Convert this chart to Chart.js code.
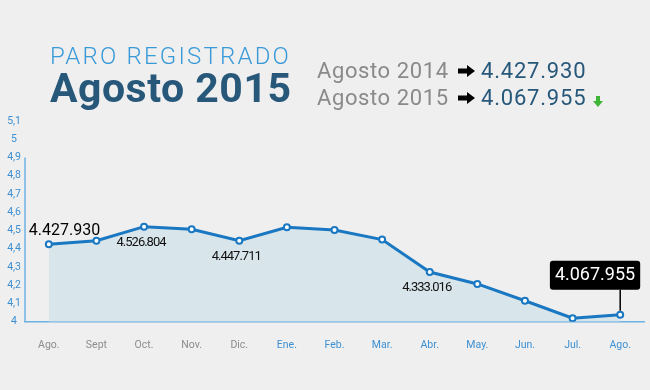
<!DOCTYPE html>
<html lang="es">
<head>
<meta charset="UTF-8">
<title>Paro registrado - Agosto 2015</title>
<script src="https://cdn.jsdelivr.net/npm/chart.js@4"></script>
<style>
  body { margin: 0; background: #efefef; font-family: Roboto, sans-serif; }
  .wrap { position: relative; width: 650px; height: 390px; overflow: hidden; }
  #grafico { position: absolute; left: 0; top: 0; }
  .txt { position: absolute; white-space: nowrap; line-height: 1; }
  .sub { left: 50px; top: 44px; font-size: 24px; font-weight: 300; color: #3a9ad8; letter-spacing: 2.2px; }
  .tit { left: 50px; top: 68px; font-size: 41px; font-weight: 700; color: #27587a; letter-spacing: 0.5px; }
  .lbl { left: 317px; font-size: 22px; color: #8a8a8a; letter-spacing: 0.6px; }
  .num { left: 481px; font-size: 22px; color: #27587a; letter-spacing: 0.8px; }
  .fl { position: absolute; }
</style>
</head>
<body>
<div class="wrap">
  <canvas id="grafico" width="650" height="390"></canvas>
  <div class="txt sub">PARO REGISTRADO</div>
  <div class="txt tit">Agosto 2015</div>
  <div class="txt lbl" style="top:60px">Agosto 2014</div>
  <div class="txt num" style="top:60px">4.427.930</div>
  <div class="txt lbl" style="top:87px">Agosto 2015</div>
  <div class="txt num" style="top:87px">4.067.955</div>
  <svg class="fl" style="left:458px;top:65px" width="18" height="12"><polygon points="0,3.5 9,3.5 9,0 17,6 9,12 9,8.5 0,8.5" fill="#000"/></svg>
  <svg class="fl" style="left:458px;top:92px" width="18" height="12"><polygon points="0,3.5 9,3.5 9,0 17,6 9,12 9,8.5 0,8.5" fill="#000"/></svg>
  <svg class="fl" style="left:593px;top:96px" width="10" height="12"><polygon points="3,0 7,0 7,5 10,5 5,11 0,5 3,5" fill="#3fb536"/></svg>
</div>
<script>
const meses = ['Ago.', 'Sept', 'Oct.', 'Nov.', 'Dic.', 'Ene.', 'Feb.', 'Mar.', 'Abr.', 'May.', 'Jun.', 'Jul.', 'Ago.'];
// millones de parados
const parados = [4.424, 4.444, 4.521, 4.507, 4.444, 4.518, 4.503, 4.450, 4.272, 4.207, 4.115, 4.019, 4.038];
const etiquetas = ['4.427.930', '', '4.526.804', '', '4.447.711', '', '', '', '4.333.016', '', '', '', '4.067.955'];
const ejeMin = 4;
const ejeMax = 5.1;
const ejeLinea = 4.9;

const gris = '#8c8c8c';
const azul = '#3d8fd1';

const rotulos = {
  id: 'rotulos',
  beforeDatasetsDraw(chart) {
    const ctx = chart.ctx;
    const y = chart.scales.y;
    ctx.save();
    ctx.strokeStyle = '#6cb2e2';
    ctx.lineWidth = 1.5;
    ctx.beginPath();
    ctx.moveTo(chart.chartArea.left, y.getPixelForValue(ejeLinea));
    ctx.lineTo(chart.chartArea.left, y.getPixelForValue(ejeMin));
    ctx.stroke();
    ctx.restore();
  },
  afterDatasetsDraw(chart) {
    const ctx = chart.ctx;
    const pts = chart.getDatasetMeta(0).data;
    const ultimo = pts.length - 1;
    ctx.save();
    etiquetas.forEach((txt, i) => {
      if (!txt) return;
      const p = pts[i];
      if (i === 0) {
        ctx.font = '16px Roboto';
        ctx.fillStyle = '#000';
        ctx.textAlign = 'left';
        ctx.textBaseline = 'alphabetic';
        ctx.fillText(txt, p.x - 20, p.y - 9);
      } else if (i === ultimo) {
        ctx.font = '18px Roboto';
        const w = ctx.measureText(txt).width + 10;
        const bottom = p.y - 25;
        const right = p.x + 20;
        ctx.strokeStyle = '#000';
        ctx.lineWidth = 1.5;
        ctx.beginPath();
        ctx.moveTo(p.x, bottom);
        ctx.lineTo(p.x, p.y - 4);
        ctx.stroke();
        ctx.fillStyle = '#000';
        ctx.beginPath();
        ctx.roundRect(right - w, bottom - 29, w, 29, 3);
        ctx.fill();
        ctx.fillStyle = '#fff';
        ctx.textAlign = 'center';
        ctx.textBaseline = 'middle';
        ctx.fillText(txt, right - w / 2, bottom - 14);
      } else {
        ctx.font = '13px Roboto';
        ctx.letterSpacing = '-1px';
        ctx.fillStyle = '#111';
        ctx.textAlign = 'center';
        ctx.textBaseline = 'alphabetic';
        ctx.fillText(txt, p.x - 3, p.y + 19);
        ctx.letterSpacing = '0px';
      }
    });
    ctx.restore();
  }
};

new Chart(document.getElementById('grafico'), {
  type: 'line',
  data: {
    labels: meses,
    datasets: [{
      data: parados,
      borderColor: '#1a78c2',
      borderWidth: 3,
      backgroundColor: '#d8e5ea',
      fill: 'start',
      tension: 0,
      pointRadius: 3,
      pointBorderWidth: 2,
      pointBackgroundColor: '#ffffff',
      pointBorderColor: '#1a78c2'
    }]
  },
  options: {
    responsive: false,
    animation: false,
    layout: { padding: { top: 121, right: 1, left: 0, bottom: 0 } },
    plugins: { legend: { display: false }, tooltip: { enabled: false } },
    scales: {
      x: {
        offset: true,
        grid: { display: false },
        border: { color: '#6cb2e2', width: 1.5 },
        ticks: {
          padding: 9,
          font: { family: 'Roboto', size: 10.5 },
          color: (c) => c.index < 5 ? gris : azul
        },
        afterFit(scale) { scale.height = 68.3; }
      },
      y: {
        min: ejeMin,
        max: ejeMax,
        grid: { display: false, drawTicks: false },
        border: { display: false },
        ticks: {
          stepSize: 0.1,
          padding: 4,
          crossAlign: 'center',
          font: { family: 'Roboto', size: 10.5 },
          color: azul,
          callback: (v) => String(Math.round(v * 10) / 10).replace('.', ',')
        },
        afterFit(scale) { scale.width = 25; }
      }
    }
  },
  plugins: [rotulos]
});
</script>
</body>
</html>
